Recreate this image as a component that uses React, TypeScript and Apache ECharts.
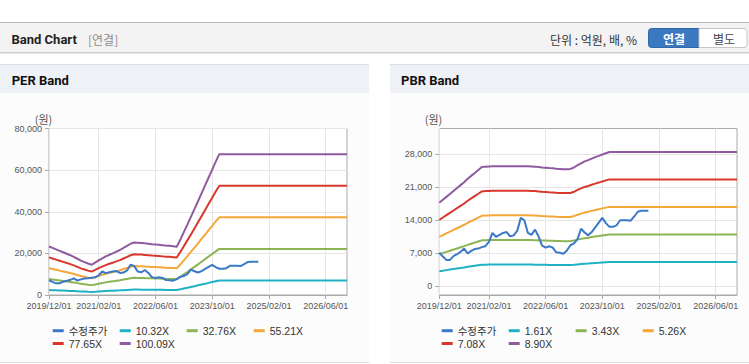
import React, { useEffect, useRef } from 'react';
import * as echarts from 'echarts';

// ---------- data ----------
const months: string[] = (() => {
  const out: string[] = [];
  let y = 2019;
  let m = 12;
  for (let i = 0; i < 85; i++) {
    out.push(`${y}/${String(m).padStart(2, '0')}/01`);
    m++;
    if (m > 12) { m = 1; y++; }
  }
  return out;
})();

const xTickLabels = ['2019/12/01', '2021/02/01', '2022/06/01', '2023/10/01', '2025/02/01', '2026/06/01'];

// adjusted share price (monthly, 2019/12 .. 2024/11)
const price = [
  7100, 6300, 5600, 5600, 6400, 6800, 7300, 8000, 6950, 7500, 7900, 8000, 8300,
  8500, 9400, 11300, 10500, 10900, 11300, 11500, 10600, 10800, 11800, 14500, 14000,
  11300, 10900, 12000, 10600, 8600, 8200, 8500, 8200, 7200, 7100, 6900, 7600,
  8700, 9100, 10000, 12200, 11400, 10800, 11500, 12500, 13500, 14500, 13400, 12600,
  12600, 12900, 14000, 14000, 14000, 13900, 14800, 15800, 16000, 16000, 16000,
];

// EPS used for the PER band (monthly, 2019/12 .. 2026/12)
const eps = [
  233, 226, 219, 212, 205, 198, 191, 183, 174, 165, 158, 151, 145,
  155, 166, 176, 185, 193, 200, 208, 216, 226, 236, 246, 252,
  251, 250, 248, 246, 244, 243, 241, 239, 237, 236, 234, 232,
  265, 302, 338, 375, 412, 450, 488, 526, 564, 602, 640, 676,
  676, 676, 676, 676, 676, 676, 676, 676, 676, 676, 676, 676,
  676, 676, 676, 676, 676, 676, 676, 676, 676, 676, 676, 676,
  676, 676, 676, 676, 676, 676, 676, 676, 676, 676, 676, 676,
];

// BPS used for the PBR band (monthly, 2019/12 .. 2026/12)
const bps = [
  1990, 2060, 2130, 2200, 2270, 2340, 2410, 2480, 2560, 2630, 2700, 2770, 2840,
  2850, 2855, 2860, 2860, 2860, 2860, 2860, 2860, 2860, 2860, 2860, 2860, 2860,
  2855, 2850, 2840, 2830, 2825, 2815, 2810, 2800, 2795, 2790, 2790,
  2795, 2830, 2885, 2930, 2975, 3005, 3040, 3075, 3105, 3140, 3170, 3200,
  3200, 3200, 3200, 3200, 3200, 3200, 3200, 3200, 3200, 3200, 3200, 3200,
  3200, 3200, 3200, 3200, 3200, 3200, 3200, 3200, 3200, 3200, 3200, 3200,
  3200, 3200, 3200, 3200, 3200, 3200, 3200, 3200, 3200, 3200, 3200, 3200,
];

const perMultiples = [10.32, 32.76, 55.21, 77.65, 100.09];
const perNames = ['10.32X', '32.76X', '55.21X', '77.65X', '100.09X'];
const pbrMultiples = [1.61, 3.43, 5.26, 7.08, 8.9];
const pbrNames = ['1.61X', '3.43X', '5.26X', '7.08X', '8.90X'];

const perTicks = [0, 20000, 40000, 60000, 80000];
const pbrTicks = [0, 7000, 14000, 21000, 28000];

const priceName = '수정주가';
const priceColor = '#3b78c6';
const bandColors = ['#1fb1c4', '#8cb454', '#f4a83a', '#d8372d', '#8f5a9f'];

// ---------- styling ----------
const FONT = '"Liberation Sans", "Noto Sans CJK KR", sans-serif';
const KFONT = '"Noto Sans CJK KR", "Liberation Sans", sans-serif';
const TFONT = 'Roboto, "Noto Sans CJK KR", sans-serif';

const tickFn = (index: number) => xTickLabels.includes(months[index]);

type Rect = { left: number; right: number; top: number; bottom: number };

const panels = [
  {
    title: 'PER Band',
    x0: 0, x1: 369,
    titleX: 11.7,
    unitX: 43.5,
    frame: { left: 49, right: 402, top: 128.5, bottom: 69 } as Rect,
    data: { left: 49, right: 402, top: 128.5, bottom: 69 } as Rect,
    ticks: perTicks,
    base: eps,
    multiples: perMultiples,
    names: perNames,
    legendLeft: 52.7,
  },
  {
    title: 'PBR Band',
    x0: 390, x1: 749,
    titleX: 401,
    unitX: 433.5,
    frame: { left: 439.3, right: 12, top: 128.5, bottom: 69 } as Rect,
    data: { left: 439.3, right: 12, top: 154.2, bottom: 77.7 } as Rect,
    ticks: pbrTicks,
    base: bps,
    multiples: pbrMultiples,
    names: pbrNames,
    legendLeft: 441.7,
  },
];

function buildOption() {
  const grid: any[] = [];
  const xAxis: any[] = [];
  const yAxis: any[] = [];
  const series: any[] = [];
  const legend: any[] = [];
  const graphic: any[] = [];

  // header
  graphic.push(
    { type: 'rect', z: -100, silent: true, shape: { x: 0, y: 22, width: 749, height: 31 }, style: { fill: '#f3f3f3' } },
    { type: 'line', z: -99, silent: true, shape: { x1: 0, y1: 22.5, x2: 749, y2: 22.5 }, style: { stroke: '#b5b5b5', lineWidth: 1 } },
    { type: 'line', z: -99, silent: true, shape: { x1: 0, y1: 52.5, x2: 749, y2: 52.5 }, style: { stroke: '#d0d0d0', lineWidth: 1 } },
    { type: 'line', z: -99, silent: true, shape: { x1: 0, y1: 53.5, x2: 749, y2: 53.5 }, style: { stroke: '#e8e8e8', lineWidth: 1 } },
    { type: 'text', z: 10, x: 11.5, y: 39, style: { text: 'Band Chart', fontFamily: TFONT, fontWeight: 'bold', fontSize: 13, fill: '#222', textVerticalAlign: 'middle' } },
    { type: 'text', z: 10, x: 88, y: 39, style: { text: '[연결]', fontFamily: KFONT, fontSize: 12, fill: '#8c8c8c', textVerticalAlign: 'middle' } },
    { type: 'text', z: 10, x: 550, y: 39, style: { text: '단위 : 억원, 배, %', fontFamily: KFONT, fontSize: 12, fill: '#333', textVerticalAlign: 'middle' } },
    { type: 'rect', z: 5, shape: { x: 648.5, y: 28.5, width: 50.5, height: 19, r: [3, 0, 0, 3] }, style: { fill: '#3a78c2', stroke: '#2f67a8', lineWidth: 1 } },
    { type: 'text', z: 10, x: 674, y: 38.5, style: { text: '연결', fontFamily: KFONT, fontWeight: 'bold', fontSize: 12, fill: '#fff', textAlign: 'center', textVerticalAlign: 'middle' } },
    { type: 'rect', z: 5, shape: { x: 699, y: 28.5, width: 48, height: 19, r: [0, 3, 3, 0] }, style: { fill: '#fff', stroke: '#c6c6c6', lineWidth: 1 } },
    { type: 'text', z: 10, x: 724, y: 38.5, style: { text: '별도', fontFamily: KFONT, fontSize: 12, fill: '#444', textAlign: 'center', textVerticalAlign: 'middle' } },
  );

  panels.forEach((p, pi) => {
    const w = p.x1 - p.x0;
    graphic.push(
      { type: 'rect', z: -100, silent: true, shape: { x: p.x0, y: 64, width: w, height: 299 }, style: { fill: '#fcfcfc' } },
      { type: 'rect', z: -99, silent: true, shape: { x: p.x0, y: 65, width: w, height: 28 }, style: { fill: '#eef2f7' } },
      { type: 'line', z: -98, silent: true, shape: { x1: p.x0, y1: 64.5, x2: p.x1, y2: 64.5 }, style: { stroke: '#dcdcdc', lineWidth: 1 } },
      { type: 'line', z: -98, silent: true, shape: { x1: p.x0, y1: 362.5, x2: p.x1, y2: 362.5 }, style: { stroke: '#dcdcdc', lineWidth: 1 } },
      { type: 'text', z: 10, x: p.titleX, y: 80.5, style: { text: p.title, fontFamily: TFONT, fontWeight: 'bold', fontSize: 13, fill: '#111', textVerticalAlign: 'middle' } },
      { type: 'text', z: 10, x: p.unitX, y: 119, style: { text: '(원)', fontFamily: KFONT, fontSize: 11, fill: '#555', textAlign: 'center', textVerticalAlign: 'middle' } },
    );

    const gFrame = pi * 2;
    const gData = pi * 2 + 1;
    grid.push({ ...p.frame, show: true, backgroundColor: '#fff', borderColor: '#aaa', borderWidth: 1 });
    grid.push({ ...p.data, show: false });

    xAxis.push({
      type: 'category', gridIndex: gFrame, data: months, boundaryGap: false,
      axisLine: { show: true, lineStyle: { color: '#aaa' } },
      axisTick: { show: true, interval: tickFn, length: 4, lineStyle: { color: '#aaa' } },
      axisLabel: { interval: tickFn, fontSize: 9, color: '#555', margin: 6, fontFamily: FONT },
      splitLine: { show: true, interval: tickFn, lineStyle: { color: '#e6e6e6' } },
    });
    xAxis.push({ type: 'category', gridIndex: gData, data: months, boundaryGap: false, show: false });

    yAxis.push({ type: 'value', gridIndex: gFrame, min: 0, max: 1, show: false });
    yAxis.push({
      type: 'value', gridIndex: gData,
      min: p.ticks[0], max: p.ticks[p.ticks.length - 1], interval: p.ticks[1] - p.ticks[0],
      axisLine: { show: false },
      axisTick: { show: true, length: 4, lineStyle: { color: '#aaa' } },
      axisLabel: { fontSize: 9, color: '#555', margin: 7, fontFamily: FONT },
      splitLine: { show: true, lineStyle: { color: '#e6e6e6' } },
    });

    p.multiples.forEach((k, i) => {
      series.push({
        type: 'line', name: p.names[i], xAxisIndex: gData, yAxisIndex: gData,
        data: p.base.map((v) => Math.round(v * k)),
        showSymbol: false, symbol: 'none', clip: false,
        color: bandColors[i],
        itemStyle: { color: bandColors[i] },
        lineStyle: { width: 2, color: bandColors[i] },
      });
    });
    series.push({
      type: 'line', name: priceName, xAxisIndex: gData, yAxisIndex: gData,
      data: price, showSymbol: false, symbol: 'none', clip: false,
      color: priceColor,
      itemStyle: { color: priceColor },
      lineStyle: { width: 2, color: priceColor },
    });

    const legendBase = {
      left: p.legendLeft, icon: 'rect', itemWidth: 11, itemHeight: 3, itemGap: 5, itemTextGap: 3,
      padding: 0, selectedMode: false, orient: 'horizontal',
      textStyle: { fontSize: 10.5, color: '#333', width: 46, lineHeight: 13, fontFamily: FONT },
    };
    legend.push({ ...legendBase, top: 324.2, data: [priceName, ...p.names.slice(0, 3)] });
    legend.push({ ...legendBase, top: 337, data: p.names.slice(3) });
  });

  return {
    animation: false,
    backgroundColor: '#fff',
    textStyle: { fontFamily: FONT },
    grid, xAxis, yAxis, series, legend, graphic,
  };
}

export default function App() {
  const ref = useRef<HTMLDivElement>(null);
  useEffect(() => {
    if (!ref.current) return;
    const chart = echarts.init(ref.current, undefined, { renderer: 'svg' });
    chart.setOption(buildOption() as any);
    return () => chart.dispose();
  }, []);
  return (
    <div style={{ position: 'fixed', left: 0, top: 0, width: 749, height: 364, background: '#fff' }}>
      <div ref={ref} style={{ width: 749, height: 364 }} />
    </div>
  );
}
